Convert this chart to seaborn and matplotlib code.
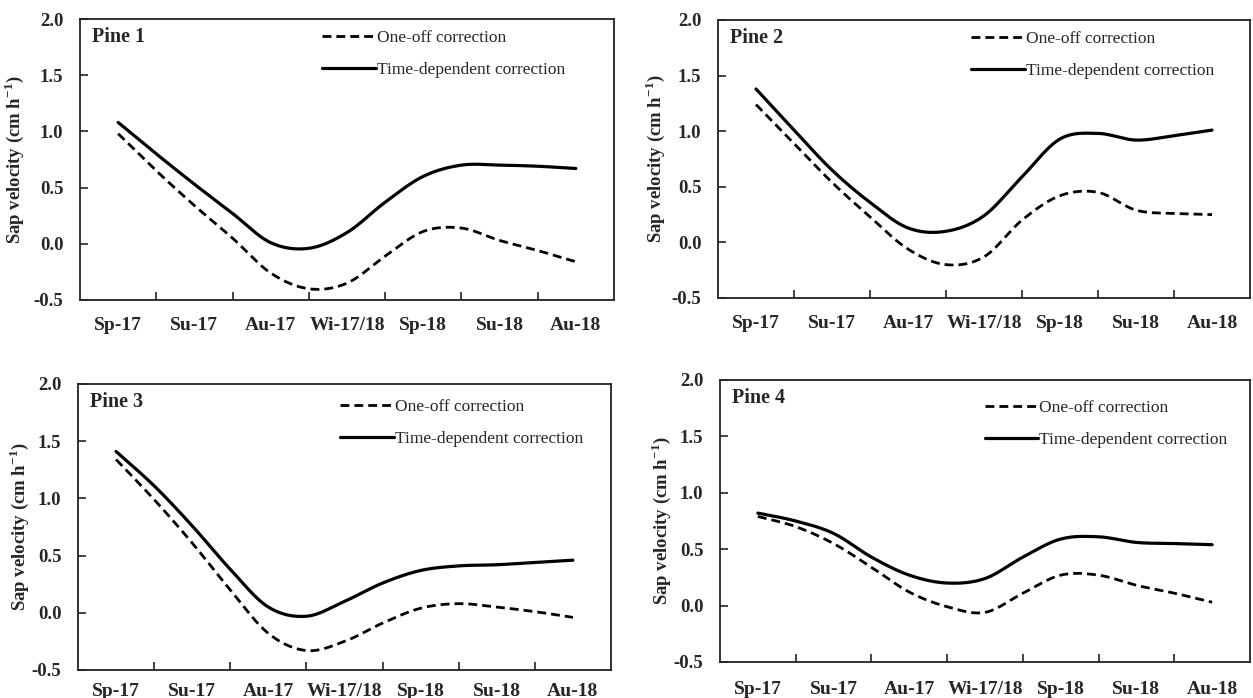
import numpy as np
import pandas as pd
import matplotlib
matplotlib.use("Agg")
import matplotlib.pyplot as plt
import seaborn as sns

# ---- data ----
seasons = ["Sp-17", "Su-17", "Au-17", "Wi-17/18", "Sp-18", "Su-18", "Au-18"]
# sample positions along the category axis (category index, half steps)
positions = [0, 0.5, 1, 1.5, 2, 2.5, 3, 3.5, 4, 4.5, 5, 5.5, 6]

pine1_oneoff = [0.98, 0.65, 0.34, 0.05, -0.26, -0.40, -0.35, -0.11, 0.11, 0.14, 0.03, -0.06, -0.16]
pine1_timedep = [1.08, 0.80, 0.53, 0.27, 0.01, -0.04, 0.10, 0.37, 0.60, 0.70, 0.70, 0.69, 0.67]
pine2_oneoff = [1.24, 0.89, 0.54, 0.23, -0.06, -0.20, -0.13, 0.20, 0.42, 0.45, 0.29, 0.26, 0.25]
pine2_timedep = [1.38, 1.01, 0.65, 0.36, 0.13, 0.10, 0.24, 0.59, 0.93, 0.98, 0.92, 0.96, 1.01]
pine3_oneoff = [1.34, 0.99, 0.61, 0.20, -0.18, -0.33, -0.25, -0.09, 0.04, 0.08, 0.05, 0.01, -0.04]
pine3_timedep = [1.41, 1.11, 0.76, 0.38, 0.05, -0.03, 0.10, 0.26, 0.37, 0.41, 0.42, 0.44, 0.46]
pine4_oneoff = [0.79, 0.70, 0.55, 0.34, 0.12, -0.01, -0.06, 0.11, 0.27, 0.27, 0.18, 0.11, 0.03]
pine4_timedep = [0.82, 0.75, 0.64, 0.43, 0.27, 0.20, 0.24, 0.43, 0.59, 0.61, 0.56, 0.55, 0.54]

panel_titles = ["Pine 1", "Pine 2", "Pine 3", "Pine 4"]
series_labels = ["One-off correction", "Time-dependent correction"]
y_ticks = [-0.5, 0.0, 0.5, 1.0, 1.5, 2.0]
y_label = r"Sap velocity (cm h$^{\mathbf{-1}}$)"

panels = [
    (pine1_oneoff, pine1_timedep),
    (pine2_oneoff, pine2_timedep),
    (pine3_oneoff, pine3_timedep),
    (pine4_oneoff, pine4_timedep),
]


def smooth(xp, yp, n=30):
    """Excel-style smoothed line (uniform Catmull-Rom through the points)."""
    P = np.column_stack([xp, yp]).astype(float)
    P = np.vstack([P[0], P, P[-1]])
    out = []
    for i in range(1, len(P) - 2):
        p0, p1, p2, p3 = P[i - 1], P[i], P[i + 1], P[i + 2]
        t = np.linspace(0, 1, n, endpoint=(i == len(P) - 3))[:, None]
        pts = 0.5 * ((2 * p1) + (-p0 + p2) * t + (2 * p0 - 5 * p1 + 4 * p2 - p3) * t ** 2
                     + (-p0 + 3 * p1 - 3 * p2 + p3) * t ** 3)
        out.append(pts)
    out = np.vstack(out)
    return out[:, 0], out[:, 1]


sns.set_theme(style="white")
plt.rcParams["font.family"] = ["Liberation Serif", "DejaVu Serif"]
plt.rcParams["mathtext.fontset"] = "custom"
plt.rcParams["mathtext.rm"] = "Liberation Serif"
plt.rcParams["mathtext.bf"] = "Liberation Serif:bold"
plt.rcParams["axes.unicode_minus"] = False

fig = plt.figure(figsize=(12.53, 6.98), dpi=100)
W, H = 1253, 698
# axes boxes in pixels: left, right, top, bottom
boxes = [(80, 614, 19, 300), (718, 1250, 20, 298), (78, 611, 384, 670), (720, 1250, 380, 662)]
legend_x = [0.437, 0.459, 0.475, 0.483]
legend_dy = [2, 2, 6, 11]          # extra px below top for legend
ylabel_x = [-0.101, -0.096, -0.088, -0.089]
xlabel_pad = [12.5, 12, 9, 14]

for k, ((l, r, t, b), (oneoff, timedep)) in enumerate(zip(boxes, panels)):
    ax = fig.add_axes([l / W, 1 - b / H, (r - l) / W, (b - t) / H])
    xs, ys = smooth(positions, oneoff)
    sns.lineplot(x=xs, y=ys, ax=ax, sort=False, estimator=None, color="black",
                 linewidth=2.0, linestyle=(0, (3.2, 1.8)), label=series_labels[0])
    xs, ys = smooth(positions, timedep)
    sns.lineplot(x=xs, y=ys, ax=ax, sort=False, estimator=None, color="black",
                 linewidth=2.3, label=series_labels[1])

    ax.set_xlim(-0.5, 6.5)
    ax.set_ylim(-0.5, 2.0)
    ax.set_xticks(range(len(seasons)))
    ax.set_xticklabels(seasons, fontsize=14, fontweight="bold")
    ax.set_xticks([i + 0.5 for i in range(len(seasons) - 1)], minor=True)
    ax.tick_params(axis="x", which="major", length=0, pad=xlabel_pad[k])
    ax.tick_params(axis="x", which="minor", direction="in", length=6, width=1.2,
                   color="#222222", bottom=True)
    ax.set_yticks(y_ticks)
    ax.set_yticklabels([f"{v:.1f}" for v in y_ticks], fontsize=13.5, fontweight="bold")
    ax.tick_params(axis="y", direction="in", length=6, width=1.2, color="#222222",
                   left=True, pad=12)
    for sp in ax.spines.values():
        sp.set_visible(True)
        sp.set_color("#222222")
        sp.set_linewidth(1.3)
    ax.set_xlabel("")
    ax.set_ylabel(y_label, fontsize=13.5, fontweight="bold")
    ax.yaxis.set_label_coords(ylabel_x[k], 0.5)
    ax.text(12 / (r - l), 1 - 18 / (b - t), panel_titles[k], transform=ax.transAxes,
            fontsize=14.5, fontweight="bold", ha="left", va="center")
    ax.legend(loc="upper left", bbox_to_anchor=(legend_x[k], 1.0 - legend_dy[k] / (b - t)),
              frameon=False, fontsize=12.5, handlelength=3.1, handletextpad=0.05,
              labelspacing=0.92, borderaxespad=0.3, borderpad=0.2)

fig.savefig("out.png", dpi=100)
